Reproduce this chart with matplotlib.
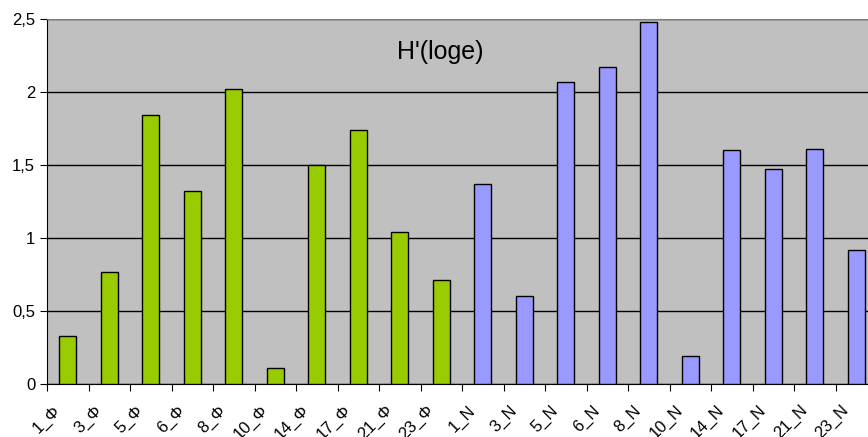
import matplotlib.pyplot as plt
import matplotlib.transforms as mtransforms
from matplotlib.ticker import FuncFormatter, FixedLocator

plt.rcParams['font.family'] = ['Liberation Sans', 'DejaVu Sans']

# data
labels = ['1_Φ', '3_Φ', '5_Φ', '6_Φ', '8_Φ', '10_Φ', '14_Φ', '17_Φ', '21_Φ', '23_Φ',
          '1_N', '3_N', '5_N', '6_N', '8_N', '10_N', '14_N', '17_N', '21_N', '23_N']
values_phi = [0.33, 0.77, 1.84, 1.32, 2.02, 0.11, 1.50, 1.74, 1.04, 0.71]
values_n = [1.37, 0.60, 2.07, 2.17, 2.48, 0.19, 1.60, 1.47, 1.61, 0.92]

fig = plt.figure(figsize=(8.68, 4.37), dpi=100)
# plot area runs past the right edge of the picture (cropped like the original)
ax = fig.add_axes([47 / 868, 1 - 384 / 437, 830 / 868, 365 / 437])
ax.set_facecolor('#c0c0c0')

x_phi = list(range(len(values_phi)))
x_n = list(range(len(values_phi), len(labels)))
ax.bar(x_phi, values_phi, width=0.42, color='#99cc00', edgecolor='black', linewidth=1, zorder=3)
ax.bar(x_n, values_n, width=0.42, color='#9999ff', edgecolor='black', linewidth=1, zorder=3)

ax.set_xlim(-0.5, len(labels) - 0.5)
ax.set_ylim(0, 2.5)
ax.set_yticks([0, 0.5, 1, 1.5, 2, 2.5])
ax.yaxis.set_major_formatter(FuncFormatter(lambda v, p: ('%g' % v).replace('.', ',')))
ax.yaxis.grid(True, color='black', linewidth=1, zorder=1)

# ticks between categories, labels at centres
ax.xaxis.set_major_locator(FixedLocator([i - 0.5 for i in range(len(labels) + 1)]))
ax.set_xticklabels([])
ax.set_xticks(range(len(labels)), minor=True)
ax.set_xticklabels(labels, minor=True, rotation=45, ha='right', va='center',
                   rotation_mode='anchor', fontsize=12)
ax.tick_params(axis='x', which='minor', length=0, pad=17)
ax.tick_params(axis='x', which='major', length=5, direction='out')
ax.tick_params(axis='y', length=5, labelsize=12)
shift = mtransforms.ScaledTranslation(-10 / 100, 0, fig.dpi_scale_trans)
for lab in ax.get_xticklabels(minor=True):
    lab.set_transform(lab.get_transform() + shift)

ax.spines['top'].set_color('#808080')
ax.spines['right'].set_visible(False)

ax.text(0.4735, 0.91, "H'(loge)", transform=ax.transAxes, ha='center', va='center', fontsize=18)

plt.savefig('out.png')
